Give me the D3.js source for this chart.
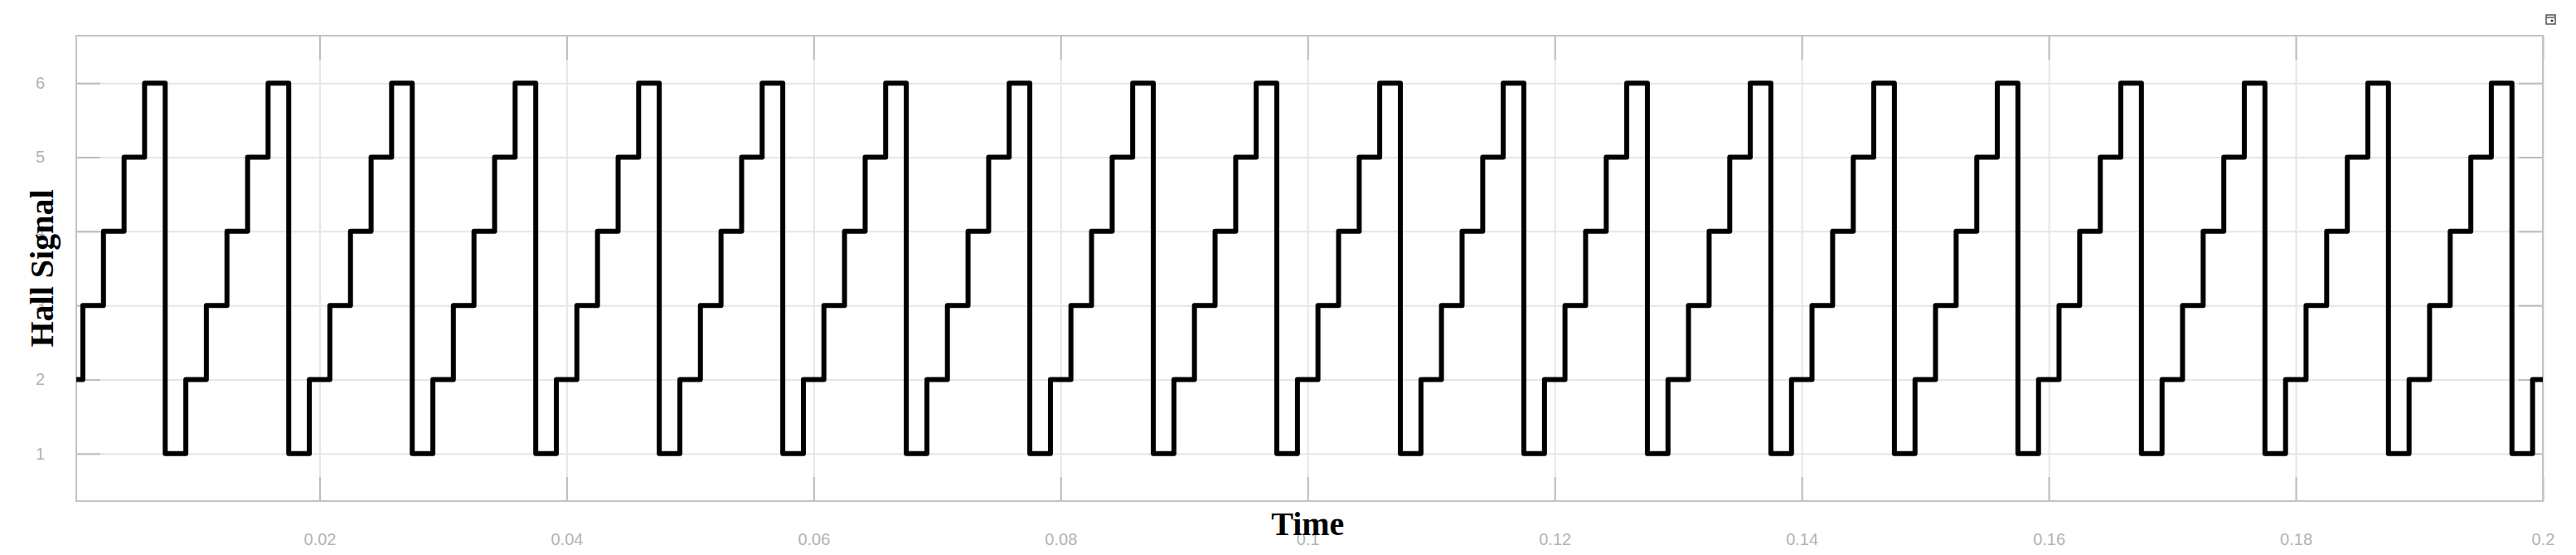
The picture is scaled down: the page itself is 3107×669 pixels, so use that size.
<!DOCTYPE html>
<html>
<head>
<meta charset="utf-8">
<script src="https://cdn.jsdelivr.net/npm/d3@7"></script>
<style>
  body { margin: 0; background: #fff; }
  .tick text { font-family: "Liberation Sans", Arial, sans-serif; fill: #b3b3b3; }
</style>
</head>
<body>
<div id="chart"></div>
<script>
// hall sensor switching instants (s), one row per electrical period
let stepTimes = [
  0,
  0.00083, 0.0025, 0.00417, 0.00583, 0.0075, 0.00917,
  0.01083, 0.0125, 0.01417, 0.01583, 0.0175, 0.01917,
  0.02083, 0.0225, 0.02417, 0.02583, 0.0275, 0.02917,
  0.03083, 0.0325, 0.03417, 0.03583, 0.0375, 0.03917,
  0.04083, 0.0425, 0.04417, 0.04583, 0.0475, 0.04917,
  0.05083, 0.0525, 0.05417, 0.05583, 0.0575, 0.05917,
  0.06083, 0.0625, 0.06417, 0.06583, 0.0675, 0.06917,
  0.07083, 0.0725, 0.07417, 0.07583, 0.0775, 0.07917,
  0.08083, 0.0825, 0.08417, 0.08583, 0.0875, 0.08917,
  0.09083, 0.0925, 0.09417, 0.09583, 0.0975, 0.09917,
  0.10083, 0.1025, 0.10417, 0.10583, 0.1075, 0.10917,
  0.11083, 0.1125, 0.11417, 0.11583, 0.1175, 0.11917,
  0.12083, 0.1225, 0.12417, 0.12583, 0.1275, 0.12917,
  0.13083, 0.1325, 0.13417, 0.13583, 0.1375, 0.13917,
  0.14083, 0.1425, 0.14417, 0.14583, 0.1475, 0.14917,
  0.15083, 0.1525, 0.15417, 0.15583, 0.1575, 0.15917,
  0.16083, 0.1625, 0.16417, 0.16583, 0.1675, 0.16917,
  0.17083, 0.1725, 0.17417, 0.17583, 0.1775, 0.17917,
  0.18083, 0.1825, 0.18417, 0.18583, 0.1875, 0.18917,
  0.19083, 0.1925, 0.19417, 0.19583, 0.1975, 0.19917,
  0.2
];

// hall state held from each instant above
let hallValues = [
  2,
  3, 4, 5, 6, 1, 2,
  3, 4, 5, 6, 1, 2,
  3, 4, 5, 6, 1, 2,
  3, 4, 5, 6, 1, 2,
  3, 4, 5, 6, 1, 2,
  3, 4, 5, 6, 1, 2,
  3, 4, 5, 6, 1, 2,
  3, 4, 5, 6, 1, 2,
  3, 4, 5, 6, 1, 2,
  3, 4, 5, 6, 1, 2,
  3, 4, 5, 6, 1, 2,
  3, 4, 5, 6, 1, 2,
  3, 4, 5, 6, 1, 2,
  3, 4, 5, 6, 1, 2,
  3, 4, 5, 6, 1, 2,
  3, 4, 5, 6, 1, 2,
  3, 4, 5, 6, 1, 2,
  3, 4, 5, 6, 1, 2,
  3, 4, 5, 6, 1, 2,
  3, 4, 5, 6, 1, 2,
  2
];

let xTicks = [0.02, 0.04, 0.06, 0.08, 0.1, 0.12, 0.14, 0.16, 0.18, 0.2];
let xTickLabels = ["0.02", "0.04", "0.06", "0.08", "0.1", "0.12", "0.14", "0.16", "0.18", "0.2"];
let yTicks = [1, 2, 3, 4, 5, 6];
let yTickLabels = ["1", "2", "3", "4", "5", "6"];

let width = 3107;
let height = 669;
let margin = { top: 43, right: 40, bottom: 65, left: 92 };

let svg = d3.select("#chart").append("svg")
  .attr("width", width)
  .attr("height", height)
  .style("display", "block");

let plotW = width - margin.left - margin.right;
let plotH = height - margin.top - margin.bottom;

let xScale = d3.scaleLinear().domain([0.0003, 0.2]).range([margin.left, margin.left + plotW]);
let yScale = d3.scaleLinear().domain([0.36, 6.64]).range([margin.top + plotH, margin.top]);

// grid
svg.append("g")
  .attr("transform", "translate(0," + (margin.top + plotH) + ")")
  .call(d3.axisBottom(xScale).tickValues(xTicks).tickSize(-plotH).tickFormat(""))
  .call(g => g.select(".domain").remove())
  .call(g => g.selectAll("line").attr("stroke", "#e6e6e6").attr("stroke-width", 2));

svg.append("g")
  .attr("transform", "translate(" + margin.left + ",0)")
  .call(d3.axisLeft(yScale).tickValues(yTicks).tickSize(-plotW).tickFormat(""))
  .call(g => g.select(".domain").remove())
  .call(g => g.selectAll("line").attr("stroke", "#e6e6e6").attr("stroke-width", 2));

// inward tick marks on all four sides
let tickLen = 29;
let tickColor = "#bdbdbd";
svg.append("g")
  .attr("transform", "translate(0," + (margin.top + plotH) + ")")
  .call(d3.axisBottom(xScale).tickValues(xTicks).tickSizeInner(-tickLen).tickSizeOuter(0)
    .tickPadding(tickLen + 10).tickFormat((d, i) => xTickLabels[i]))
  .call(g => g.select(".domain").remove())
  .call(g => g.selectAll("line").attr("stroke", tickColor).attr("stroke-width", 2))
  .call(g => g.selectAll("text").style("font-size", "20px"));

svg.append("g")
  .attr("transform", "translate(0," + margin.top + ")")
  .call(d3.axisTop(xScale).tickValues(xTicks).tickSizeInner(-tickLen).tickSizeOuter(0).tickFormat(""))
  .call(g => g.select(".domain").remove())
  .call(g => g.selectAll("line").attr("stroke", tickColor).attr("stroke-width", 2));

svg.append("g")
  .attr("transform", "translate(" + margin.left + ",0)")
  .call(d3.axisLeft(yScale).tickValues(yTicks).tickSizeInner(-tickLen).tickSizeOuter(0)
    .tickPadding(tickLen + 9).tickFormat((d, i) => yTickLabels[i]))
  .call(g => g.select(".domain").remove())
  .call(g => g.selectAll("line").attr("stroke", tickColor).attr("stroke-width", 2))
  .call(g => g.selectAll("text").style("font-size", "20px"));

svg.append("g")
  .attr("transform", "translate(" + (margin.left + plotW) + ",0)")
  .call(d3.axisRight(yScale).tickValues(yTicks).tickSizeInner(-tickLen).tickSizeOuter(0).tickFormat(""))
  .call(g => g.select(".domain").remove())
  .call(g => g.selectAll("line").attr("stroke", tickColor).attr("stroke-width", 2));

// axes box
svg.append("rect")
  .attr("x", margin.left)
  .attr("y", margin.top)
  .attr("width", plotW)
  .attr("height", plotH)
  .attr("fill", "none")
  .attr("stroke", "#c4c4c4")
  .attr("stroke-width", 2);

svg.append("clipPath").attr("id", "plotClip")
  .append("rect")
  .attr("x", margin.left)
  .attr("y", margin.top)
  .attr("width", plotW)
  .attr("height", plotH);

let points = stepTimes.map((t, i) => ({ t: t, v: hallValues[i] }));

let line = d3.line()
  .x(d => xScale(d.t))
  .y(d => yScale(d.v))
  .curve(d3.curveStepAfter);

svg.append("path")
  .datum(points)
  .attr("clip-path", "url(#plotClip)")
  .attr("d", line)
  .attr("fill", "none")
  .attr("stroke", "#000")
  .attr("stroke-width", 6)
  .attr("stroke-linejoin", "round");

// axis titles
svg.append("text")
  .attr("x", xScale(0.1))
  .attr("y", 645)
  .attr("text-anchor", "middle")
  .style("font-family", "'Liberation Serif', 'Times New Roman', serif")
  .style("font-weight", "bold")
  .style("font-size", "40px")
  .text("Time");

svg.append("text")
  .attr("transform", "translate(64," + yScale(3.5) + ") rotate(-90)")
  .attr("text-anchor", "middle")
  .style("font-family", "'Liberation Serif', 'Times New Roman', serif")
  .style("font-weight", "bold")
  .style("font-size", "40px")
  .text("Hall Signal");

// small scope icon at the top right corner
let icon = svg.append("g").attr("transform", "translate(3071,18)");
icon.append("rect").attr("width", 11).attr("height", 11)
  .attr("fill", "#fff").attr("stroke", "#555").attr("stroke-width", 1.5);
icon.append("line").attr("x1", 0).attr("x2", 11).attr("y1", 3).attr("y2", 3)
  .attr("stroke", "#555").attr("stroke-width", 1.5);
icon.append("circle").attr("cx", 7).attr("cy", 7).attr("r", 1.5).attr("fill", "#333");
</script>
</body>
</html>
